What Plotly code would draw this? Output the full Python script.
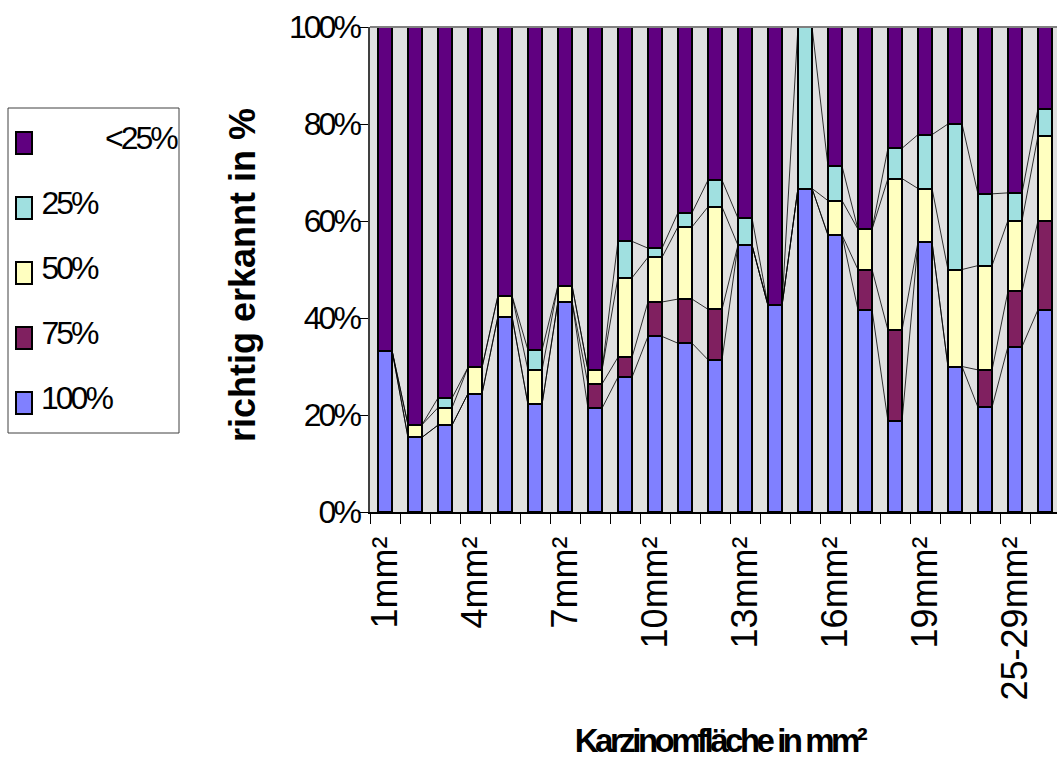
import plotly.graph_objects as go

# Tumour area classes (x axis)
categories = ["1mm²", "2mm²", "3mm²", "4mm²", "5mm²", "6mm²", "7mm²", "8mm²",
              "9mm²", "10mm²", "11mm²", "12mm²", "13mm²", "14mm²", "15mm²",
              "16mm²", "17mm²", "18mm²", "19mm²", "20mm²", "21-24mm²",
              "25-29mm²", "≥30mm²"]

# Share of cases (%) per detection level, bottom to top of each stack
share_100 = [33.3, 15.4, 17.9, 24.4, 40.3, 22.2, 43.4, 21.4, 27.8, 36.2, 34.8, 31.4,
             55.0, 42.6, 66.7, 57.1, 41.7, 18.75, 55.6, 30.0, 21.6, 34.1, 41.7]
share_75 = [0, 0, 0, 0, 0, 0, 0, 5.0, 4.1, 7.1, 9.1, 10.4,
            0, 0, 0, 0, 8.3, 18.75, 0, 0, 7.7, 11.4, 18.3]
share_50 = [0, 2.6, 3.6, 5.4, 4.3, 7.1, 3.3, 2.9, 16.4, 9.2, 14.9, 21.1,
            0, 0, 0, 7.1, 8.3, 31.25, 11.1, 20.0, 21.5, 14.6, 17.5]
share_25 = [0, 0, 2.0, 0, 0, 4.1, 0, 0, 7.5, 1.9, 2.9, 5.5,
            5.6, 0, 33.3, 7.1, 0, 6.25, 11.1, 30.0, 14.8, 5.7, 5.6]
share_lt25 = [66.7, 82.0, 76.5, 70.2, 55.4, 66.6, 53.3, 70.7, 44.2, 45.6, 38.3, 31.6,
              39.4, 57.4, 0, 28.7, 41.7, 25.0, 22.2, 20.0, 34.4, 34.2, 16.9]

series_names = ["100%", "75%", "50%", "25%", "<25%"]
series_values = [share_100, share_75, share_50, share_25, share_lt25]
series_colors = ["#8080FF", "#802060", "#FFFFC0", "#A0E0E0", "#600080"]

y_ticks = [0, 20, 40, 60, 80, 100]
label_step = 3

W, H = 1057, 765
BAR_W = 0.47
# "Narrow" in the family list marks the texts that get tight letter spacing below
NARROW = "Liberation Sans Narrow, Liberation Sans, Arial, sans-serif"
ARIAL = "Liberation Sans, Arial, sans-serif"
TIGHT = 3.0  # px removed between letters of the narrow texts


def px(x):
    return x / W


def py(y):
    return 1 - y / H


xs = list(range(len(categories)))
fig = go.Figure()

for name, vals, col in zip(series_names, series_values, series_colors):
    fig.add_trace(go.Bar(
        x=xs, y=vals, name=name, width=BAR_W,
        marker=dict(color=col, line=dict(color="black", width=2)),
        showlegend=False,
    ))

# Series lines joining the top of each stacked segment between neighbouring bars
lx, ly = [], []
running = [0.0] * len(categories)
for vals in series_values[:-1]:
    running = [r + v for r, v in zip(running, vals)]
    for i in range(len(categories) - 1):
        lx += [xs[i] + BAR_W / 2, xs[i + 1] - BAR_W / 2, None]
        ly += [running[i], running[i + 1], None]
fig.add_trace(go.Scatter(x=lx, y=ly, mode="lines", showlegend=False,
                         line=dict(color="black", width=0.8), hoverinfo="skip"))

x_left, x_right = 370, W
y_bot, y_top = 512, 27
fig.update_layout(
    width=W, height=H,
    margin=dict(l=0, r=0, t=0, b=0),
    barmode="stack", bargap=0,
    paper_bgcolor="white", plot_bgcolor="#E0E0E0",
    showlegend=False,
    xaxis=dict(
        domain=[px(x_left), px(x_right)],
        range=[-0.5, -0.5 + (x_right - x_left) / 30.0],
        tickmode="array",
        tickvals=xs[::label_step],
        ticktext=categories[::label_step],
        tickangle=-90, ticks="",
        ticklabelstandoff=8,
        tickfont=dict(family=ARIAL, size=36, color="black"),
        showgrid=False, zeroline=False,
        showline=True, linecolor="black", linewidth=2,
        minor=dict(tickmode="linear", tick0=-0.5, dtick=1, ticks="outside",
                   ticklen=10, tickcolor="black", tickwidth=1, showgrid=False),
        automargin=False,
    ),
    yaxis=dict(
        domain=[py(y_bot), py(y_top)],
        range=[0, 100],
        tickmode="array", tickvals=y_ticks,
        ticktext=[f"{v}%" for v in y_ticks],
        ticks="outside", ticklen=9, tickcolor="black", tickwidth=1,
        ticklabelstandoff=-6,
        tickfont=dict(family=NARROW, size=32, color="black"),
        showgrid=False, zeroline=False,
        showline=True, linecolor="#404040", linewidth=1.5,
        automargin=False,
    ),
)

shapes = [
    # top edge of the plot area
    dict(type="line", xref="paper", yref="paper",
         x0=px(x_left), x1=1, y0=py(y_top), y1=py(y_top),
         line=dict(color="#808080", width=2)),
    # legend frame
    dict(type="rect", xref="paper", yref="paper",
         x0=px(8), x1=px(179), y0=py(433), y1=py(108),
         line=dict(color="#404040", width=1), fillcolor="white"),
]
annotations = [
    dict(text="<b>richtig erkannt in %</b>", textangle=-90,
         xref="paper", yref="paper", x=px(242), y=py(275),
         xanchor="center", yanchor="middle", showarrow=False,
         font=dict(family=ARIAL, size=36, color="black")),
    dict(text="<b>Karzinomfläche in mm²</b>",
         xref="paper", yref="paper", x=px(719), y=py(740),
         xanchor="center", yanchor="middle", showarrow=False,
         font=dict(family=NARROW, size=33, color="black")),
]

# Legend: top entry is the top segment of the stack
legend_order = list(zip(series_names, series_colors))[::-1]
for k, (name, col) in enumerate(legend_order):
    yc = 143 + 65 * k
    shapes.append(dict(type="rect", xref="paper", yref="paper",
                       x0=px(16), x1=px(32), y0=py(yc + 11), y1=py(yc - 11),
                       line=dict(color="black", width=2), fillcolor=col))
    # annotation text stays centred in its box, so shift by half the squeeze
    shift = len(name) * TIGHT / 2
    if k == 0:
        annotations.append(dict(text=name, xref="paper", yref="paper",
                                x=px(178 + shift), y=py(yc - 5), xanchor="right",
                                yanchor="middle", showarrow=False,
                                font=dict(family=NARROW, size=32, color="black")))
    else:
        annotations.append(dict(text=name, xref="paper", yref="paper",
                                x=px(39 - shift), y=py(yc - 5), xanchor="left",
                                yanchor="middle", showarrow=False,
                                font=dict(family=NARROW, size=32, color="black")))

fig.update_layout(shapes=shapes, annotations=annotations)

# tighten letter spacing of the narrow-set texts once the plot is drawn
post = """
var gd = document.getElementById('{plot_id}');
gd.querySelectorAll('text').forEach(function (t) {
  var ff = t.style.fontFamily || t.getAttribute('font-family') || '';
  if (ff.indexOf('Narrow') >= 0) {
    var isTitle = (t.textContent || '').indexOf('Karzinom') >= 0;
    t.style.letterSpacing = (isTitle ? -3.5 : -%s) + 'px';
  }
});
""" % TIGHT
fig.write_html("out.html", post_script=post)
